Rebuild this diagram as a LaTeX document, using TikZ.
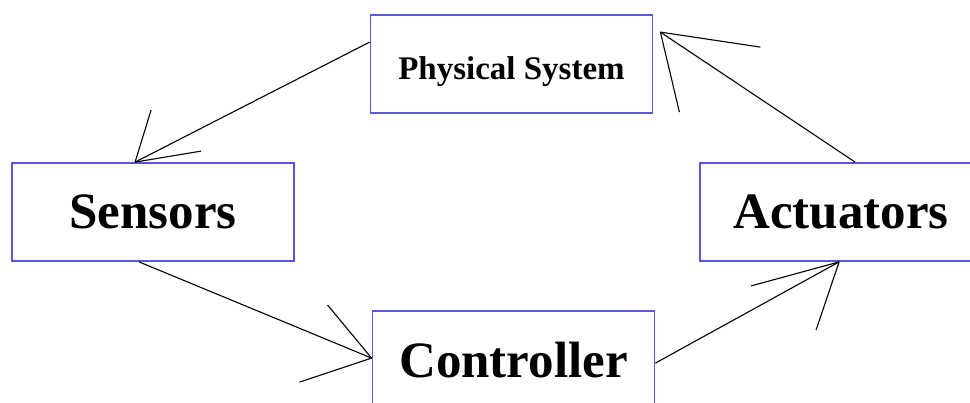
\documentclass[tikz,border=0pt]{standalone}
\usepackage{fontspec}
\setmainfont{Liberation Serif}
\usetikzlibrary{calc}
\definecolor{boxblue}{RGB}{88,88,220}
\tikzset{
  block/.style={draw=boxblue, line width=1.8pt, fill=white, minimum width=282pt,
    minimum height=98pt, inner sep=0pt, font=\bfseries\fontsize{51}{51}\selectfont},
  link/.style={draw=black, line width=1.1pt},
}
\begin{document}
\begin{tikzpicture}[x=1pt,y=-1pt]
  \useasboundingbox (0,0) rectangle (970,402);
  \clip (0,0) rectangle (970,402);

  \node[block, font=\bfseries\fontsize{33}{33}\selectfont, text height=31pt, text depth=0pt]
    (phys) at (511.5,64) {Physical System};
  \node[block] (sens) at (153,212) {Sensors};
  \node[block] (ctrl) at (513.5,360) {Controller};
  \node[block] (act) at (841,212) {Actuators};

  % Physical System -> Sensors
  \coordinate (t1) at ([xshift=124pt]sens.north west);
  \draw[link] ([yshift=-28pt]phys.north west) -- (t1);
  \draw[link] (t1) -- ++(16,-52);
  \draw[link] (t1) -- ++(66,-11);

  % Sensors -> Controller
  \coordinate (t2) at ([yshift=-48pt]ctrl.north west);
  \draw[link] ([xshift=128pt]sens.south west) -- (t2);
  \draw[link] (t2) -- ++(-44,-53);
  \draw[link] (t2) -- ++(-72,24);

  % Controller -> Actuators
  \coordinate (t3) at ([xshift=140pt]act.south west);
  \draw[link] ([yshift=-53pt]ctrl.north east) -- (t3);
  \draw[link] (t3) -- ++(-88,24);
  \draw[link] (t3) -- ++(-23,68);

  % Actuators -> Physical System
  \coordinate (t4) at ([xshift=7pt,yshift=-18pt]phys.north east);
  \draw[link] ([xshift=156pt]act.north west) -- (t4);
  \draw[link] (t4) -- ++(100,15);
  \draw[link] (t4) -- ++(19,80);
\end{tikzpicture}
\end{document}
